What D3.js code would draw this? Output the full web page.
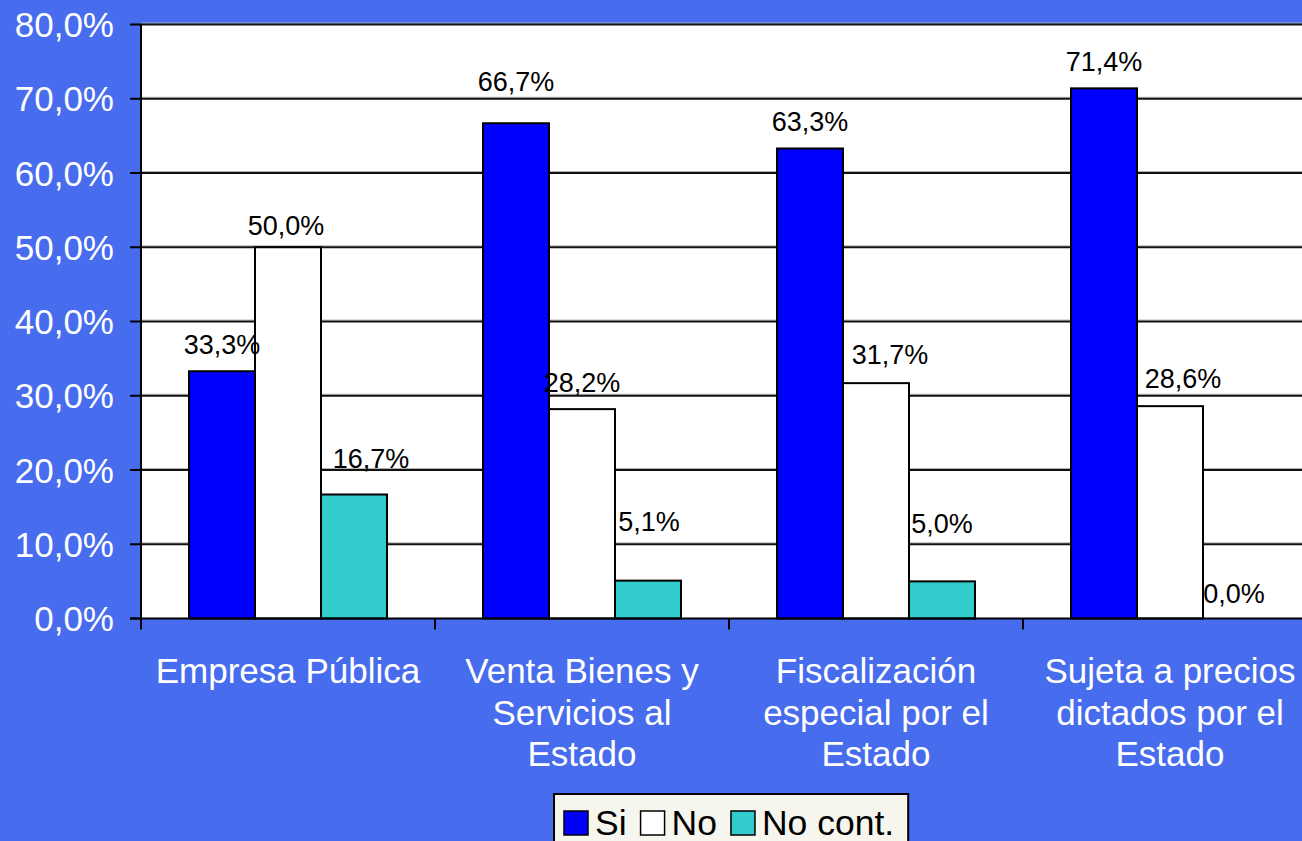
<!DOCTYPE html>
<html>
<head>
<meta charset="utf-8">
<script src="https://cdn.jsdelivr.net/npm/d3@7/dist/d3.min.js"></script>
<style>
  html, body { margin: 0; padding: 0; background: #476cee; overflow: hidden; }
  svg { display: block; font-family: "Liberation Sans", Arial, sans-serif; }
</style>
</head>
<body>
<svg id="chart"></svg>
<script>
  // ===== datos =====
  var categories = [
    ['Empresa Pública'],
    ['Venta Bienes y', 'Servicios al', 'Estado'],
    ['Fiscalización', 'especial por el', 'Estado'],
    ['Sujeta a precios', 'dictados por el', 'Estado']
  ];
  var seriesNames = ['Si', 'No', 'No cont.'];
  var siValues = [33.3, 66.7, 63.3, 71.4];
  var noValues = [50.0, 28.2, 31.7, 28.6];
  var noContValues = [16.7, 5.1, 5.0, 0.0];
  var yTicks = [0, 10, 20, 30, 40, 50, 60, 70, 80];

  var SERIES_COLORS = { 'Si': '#0000ff', 'No': '#ffffff', 'No cont.': '#33cccc' };

  // ajustes manuales de etiquetas (px), como en el original
  var LABEL_NUDGE = {
    '0|No': { dx: -2, dy: -12 }, '0|No cont.': { dx: 17, dy: -27 },
    '1|Si': { dx: 0, dy: -32 }, '1|No cont.': { dx: 1, dy: -50 },
    '2|No': { dx: 14, dy: -19 }, '2|No cont.': { dx: 0, dy: -48 },
    '3|No': { dx: 13, dy: -18 }, '3|No cont.': { dx: -2, dy: -16 }
  };

  var width = 1302, height = 841;
  var plot = { left: 141, top: 24.5, right: 1317, bottom: 618.5 };

  var svg = d3.select('#chart').attr('width', width).attr('height', height);
  svg.append('rect').attr('width', width).attr('height', height).attr('fill', '#476cee');

  var catIdx = categories.map(function (c, i) { return i; });
  var x0 = d3.scaleBand().domain(catIdx).range([plot.left, plot.right]);
  var x1 = d3.scaleBand().domain(seriesNames).range([48, x0.bandwidth() - 48]);
  var y = d3.scaleLinear().domain([0, 80]).range([plot.bottom, plot.top]);

  // área de trazado
  svg.append('rect')
    .attr('x', plot.left).attr('y', plot.top)
    .attr('width', plot.right - plot.left).attr('height', plot.bottom - plot.top)
    .attr('fill', '#ffffff');

  // líneas de división
  var grid = svg.append('g');
  grid.selectAll('line.shadow')
    .data(yTicks.filter(function (t) { return t > 0; }))
    .join('line').attr('class', 'shadow')
    .attr('x1', plot.left).attr('x2', width)
    .attr('y1', function (d) { return y(d) - 1.5; })
    .attr('y2', function (d) { return y(d) - 1.5; })
    .attr('stroke', '#b4b4b4').attr('stroke-width', 1);
  grid.selectAll('line.major')
    .data(yTicks.filter(function (t) { return t > 0; }))
    .join('line').attr('class', 'major')
    .attr('x1', plot.left).attr('x2', width)
    .attr('y1', function (d) { return y(d); })
    .attr('y2', function (d) { return y(d); })
    .attr('stroke', '#111').attr('stroke-width', 2);

  // barras
  var rows = [];
  catIdx.forEach(function (i) {
    rows.push({ cat: i, series: 'Si', value: siValues[i] });
    rows.push({ cat: i, series: 'No', value: noValues[i] });
    rows.push({ cat: i, series: 'No cont.', value: noContValues[i] });
  });

  svg.append('g').selectAll('rect')
    .data(rows.filter(function (d) { return d.value > 0; }))
    .join('rect')
    .attr('x', function (d) { return x0(d.cat) + x1(d.series); })
    .attr('y', function (d) { return y(d.value); })
    .attr('width', x1.bandwidth())
    .attr('height', function (d) { return y(0) - y(d.value); })
    .attr('fill', function (d) { return SERIES_COLORS[d.series]; })
    .attr('stroke', '#000').attr('stroke-width', 2);

  // etiquetas de valor
  function fmt(v) { return v.toFixed(1).replace('.', ',') + '%'; }
  svg.append('g').selectAll('text')
    .data(rows)
    .join('text')
    .attr('x', function (d) {
      var n = LABEL_NUDGE[d.cat + '|' + d.series] || { dx: 0 };
      return x0(d.cat) + x1(d.series) + x1.bandwidth() / 2 + n.dx;
    })
    .attr('y', function (d) {
      var n = LABEL_NUDGE[d.cat + '|' + d.series] || { dy: -17 };
      return y(d.value) + n.dy;
    })
    .attr('text-anchor', 'middle')
    .attr('font-size', 27)
    .attr('fill', '#000')
    .text(function (d) { return fmt(d.value); });

  // eje Y
  var yAxis = svg.append('g');
  yAxis.append('line')
    .attr('x1', plot.left).attr('x2', plot.left)
    .attr('y1', plot.top).attr('y2', plot.bottom)
    .attr('stroke', '#000').attr('stroke-width', 2);
  yAxis.selectAll('line.tick')
    .data(yTicks).join('line').attr('class', 'tick')
    .attr('x1', plot.left - 11).attr('x2', plot.left)
    .attr('y1', function (d) { return y(d); })
    .attr('y2', function (d) { return y(d); })
    .attr('stroke', '#000').attr('stroke-width', 2);
  yAxis.selectAll('text')
    .data(yTicks).join('text')
    .attr('x', 114)
    .attr('y', function (d) { return y(d); })
    .attr('dy', '0.36em')
    .attr('text-anchor', 'end')
    .attr('font-size', 35)
    .attr('fill', '#fff')
    .text(function (d) { return d.toFixed(1).replace('.', ',') + '%'; });

  // eje X
  var xAxis = svg.append('g');
  xAxis.append('line')
    .attr('x1', plot.left - 11).attr('x2', width)
    .attr('y1', plot.bottom).attr('y2', plot.bottom)
    .attr('stroke', '#000').attr('stroke-width', 2);
  xAxis.selectAll('line.tick')
    .data(catIdx).join('line').attr('class', 'tick')
    .attr('x1', function (d) { return x0(d); })
    .attr('x2', function (d) { return x0(d); })
    .attr('y1', plot.bottom).attr('y2', plot.bottom + 11)
    .attr('stroke', '#000').attr('stroke-width', 2);
  var catLabel = xAxis.selectAll('text')
    .data(catIdx).join('text')
    .attr('x', function (d) { return x0(d) + x0.bandwidth() / 2; })
    .attr('y', 683)
    .attr('text-anchor', 'middle')
    .attr('font-size', 35)
    .attr('fill', '#fff');
  catLabel.selectAll('tspan')
    .data(function (d) { return categories[d].map(function (t, j) { return { t: t, j: j, cat: d }; }); })
    .join('tspan')
    .attr('x', function (d) { return x0(d.cat) + x0.bandwidth() / 2; })
    .attr('dy', function (d) { return d.j === 0 ? 0 : 41.5; })
    .text(function (d) { return d.t; });

  // leyenda
  var legend = svg.append('g');
  var legBox = legend.append('rect')
    .attr('x', 554).attr('y', 794).attr('width', 349).attr('height', 60)
    .attr('fill', '#f6f6ee').attr('stroke', '#000').attr('stroke-width', 2);
  var lx = 564;
  seriesNames.forEach(function (s) {
    legend.append('rect')
      .attr('x', lx).attr('y', 811).attr('width', 24).attr('height', 24)
      .attr('fill', SERIES_COLORS[s]).attr('stroke', '#000').attr('stroke-width', 1.5);
    var t = legend.append('text')
      .attr('x', lx + 31).attr('y', 835)
      .attr('font-size', 35.5).attr('fill', '#000')
      .text(s);
    lx += 31 + t.node().getComputedTextLength() + 14;
  });
  legBox.attr('width', lx - 554);
</script>
</body>
</html>
